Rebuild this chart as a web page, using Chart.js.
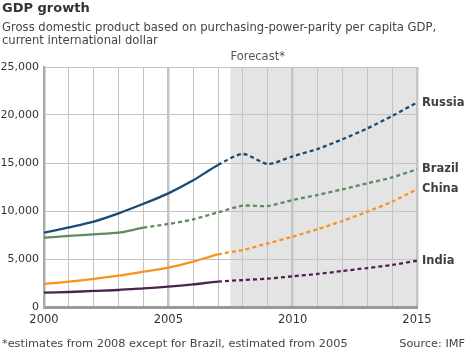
<!DOCTYPE html>
<html>
<head>
<meta charset="utf-8">
<script src="https://cdn.jsdelivr.net/npm/chart.js@4"></script>
<style>
  body { margin: 0; width: 466px; height: 351px; position: relative; background: #fff; font-family: "DejaVu Sans", Verdana, sans-serif; color: #333; }
  #wrap { position: absolute; left: 0; top: 0; width: 466px; height: 351px; }
  .title { position: absolute; left: 2px; top: 0px; font-size: 13px; font-weight: bold; color: #333; }
  .sub { position: absolute; left: 2px; top: 21px; font-size: 11.6px; line-height: 13px; color: #444; }
  .foot { position: absolute; left: 2px; top: 337px; font-size: 11.3px; color: #444; }
  .src { position: absolute; right: 1px; top: 337px; font-size: 11.3px; color: #444; }
</style>
</head>
<body>
<div id="wrap"><canvas id="grafico"></canvas></div>
<div class="title">GDP growth</div>
<div class="sub">Gross domestic product based on purchasing-power-parity per capita GDP,<br>current international dollar</div>
<div class="foot">*estimates from 2008 except for Brazil, estimated from 2005</div>
<div class="src">Source: IMF</div>
<script>
var anos = [2000, 2001, 2002, 2003, 2004, 2005, 2006, 2007, 2008, 2009, 2010, 2011, 2012, 2013, 2014, 2015];
var russia = [7740, 8300, 8900, 9760, 10750, 11840, 13200, 14800, 15940, 14900, 15700, 16460, 17470, 18600, 19900, 21300];
var brazil = [7220, 7400, 7570, 7740, 8260, 8650, 9130, 9860, 10550, 10520, 11150, 11670, 12260, 12880, 13500, 14340];
var china = [2400, 2640, 2920, 3260, 3680, 4100, 4720, 5490, 5940, 6630, 7330, 8100, 8960, 9930, 10970, 12260];
var india = [1490, 1560, 1670, 1770, 1940, 2120, 2360, 2640, 2810, 2950, 3200, 3440, 3750, 4060, 4380, 4820];
var rotulosX = [2000, 2005, 2010, 2015];
var inicioPrevisao = 2007.5;

function pontos(valores) {
    var arr = [];
    for (let i = 0; i < anos.length; i++) {
        arr.push({ x: anos[i], y: valores[i] });
    }
    return arr;
}

function serie(nome, valores, cor, anoTracejado) {
    return {
        label: nome,
        data: pontos(valores),
        borderColor: cor,
        backgroundColor: cor,
        borderWidth: 2.3,
        pointRadius: 0,
        tension: 0.25,
        fill: false,
        segment: {
            borderDash: ctx => ctx.p0.parsed.x >= anoTracejado ? [4, 3] : undefined
        }
    };
}

var pluginFundo = {
    id: 'fundo',
    beforeDraw: function (chart) {
        var c = chart.ctx;
        var x = chart.scales.x;
        var area = chart.chartArea;
        var x0 = x.getPixelForValue(inicioPrevisao);
        var x1 = x.getPixelForValue(2015);
        c.save();
        c.fillStyle = '#e4e4e4';
        c.fillRect(x0, area.top, x1 - x0, area.bottom - area.top);
        c.font = '11.5px "DejaVu Sans"';
        c.fillStyle = '#555';
        c.textBaseline = 'bottom';
        c.fillText('Forecast*', x0, area.top - 4);
        c.restore();
    },
    afterDraw: function (chart) {
        var c = chart.ctx;
        var area = chart.chartArea;
        c.save();
        c.font = 'bold 11.5px "DejaVu Sans"';
        c.fillStyle = '#404040';
        c.textBaseline = 'middle';
        chart.data.datasets.forEach(function (ds, i) {
            var pts = chart.getDatasetMeta(i).data;
            var ultimo = pts[pts.length - 1];
            c.fillText(ds.label, area.right + 5, ultimo.y);
        });
        c.restore();
    }
};

var graficoPIB = new Chart(document.getElementById('grafico'), {
    type: 'line',
    data: {
        datasets: [
            serie('Russia', russia, '#1b4a72', 2007),
            serie('Brazil', brazil, '#5e8b5f', 2004),
            serie('China', china, '#f7931e', 2007),
            serie('India', india, '#4e2150', 2007)
        ]
    },
    options: {
        responsive: true,
        maintainAspectRatio: false,
        animation: false,
        layout: { padding: { left: 0, top: 67, right: 49, bottom: 20 } },
        plugins: {
            legend: { display: false },
            tooltip: { enabled: false }
        },
        scales: {
            x: {
                type: 'linear',
                min: 2000,
                max: 2015,
                ticks: {
                    stepSize: 1,
                    autoSkip: false,
                    maxRotation: 0,
                    padding: 6,
                    color: '#333',
                    font: { family: 'DejaVu Sans', size: 11.5 },
                    callback: function (v) { return rotulosX.indexOf(v) >= 0 ? String(v) : ''; }
                },
                grid: {
                    drawTicks: false,
                    color: '#c4c4c4',
                    lineWidth: ctx => (ctx.tick && (ctx.tick.value == 2005 || ctx.tick.value == 2010 || ctx.tick.value == 2015)) ? 2.5 : 1
                },
                border: { color: '#999', width: 3 },
                afterFit: function (s) { s.height = 24; }
            },
            y: {
                min: 0,
                max: 25000,
                ticks: {
                    stepSize: 5000,
                    padding: 5,
                    color: '#333',
                    font: { family: 'DejaVu Sans', size: 11 },
                    callback: function (v) { return v.toLocaleString('en-US'); }
                },
                grid: { drawTicks: false, color: '#c4c4c4', lineWidth: 1 },
                border: { color: '#aaa', width: 2.5 },
                afterFit: function (s) { s.width = 44; }
            }
        }
    },
    plugins: [pluginFundo]
});
</script>
</body>
</html>
